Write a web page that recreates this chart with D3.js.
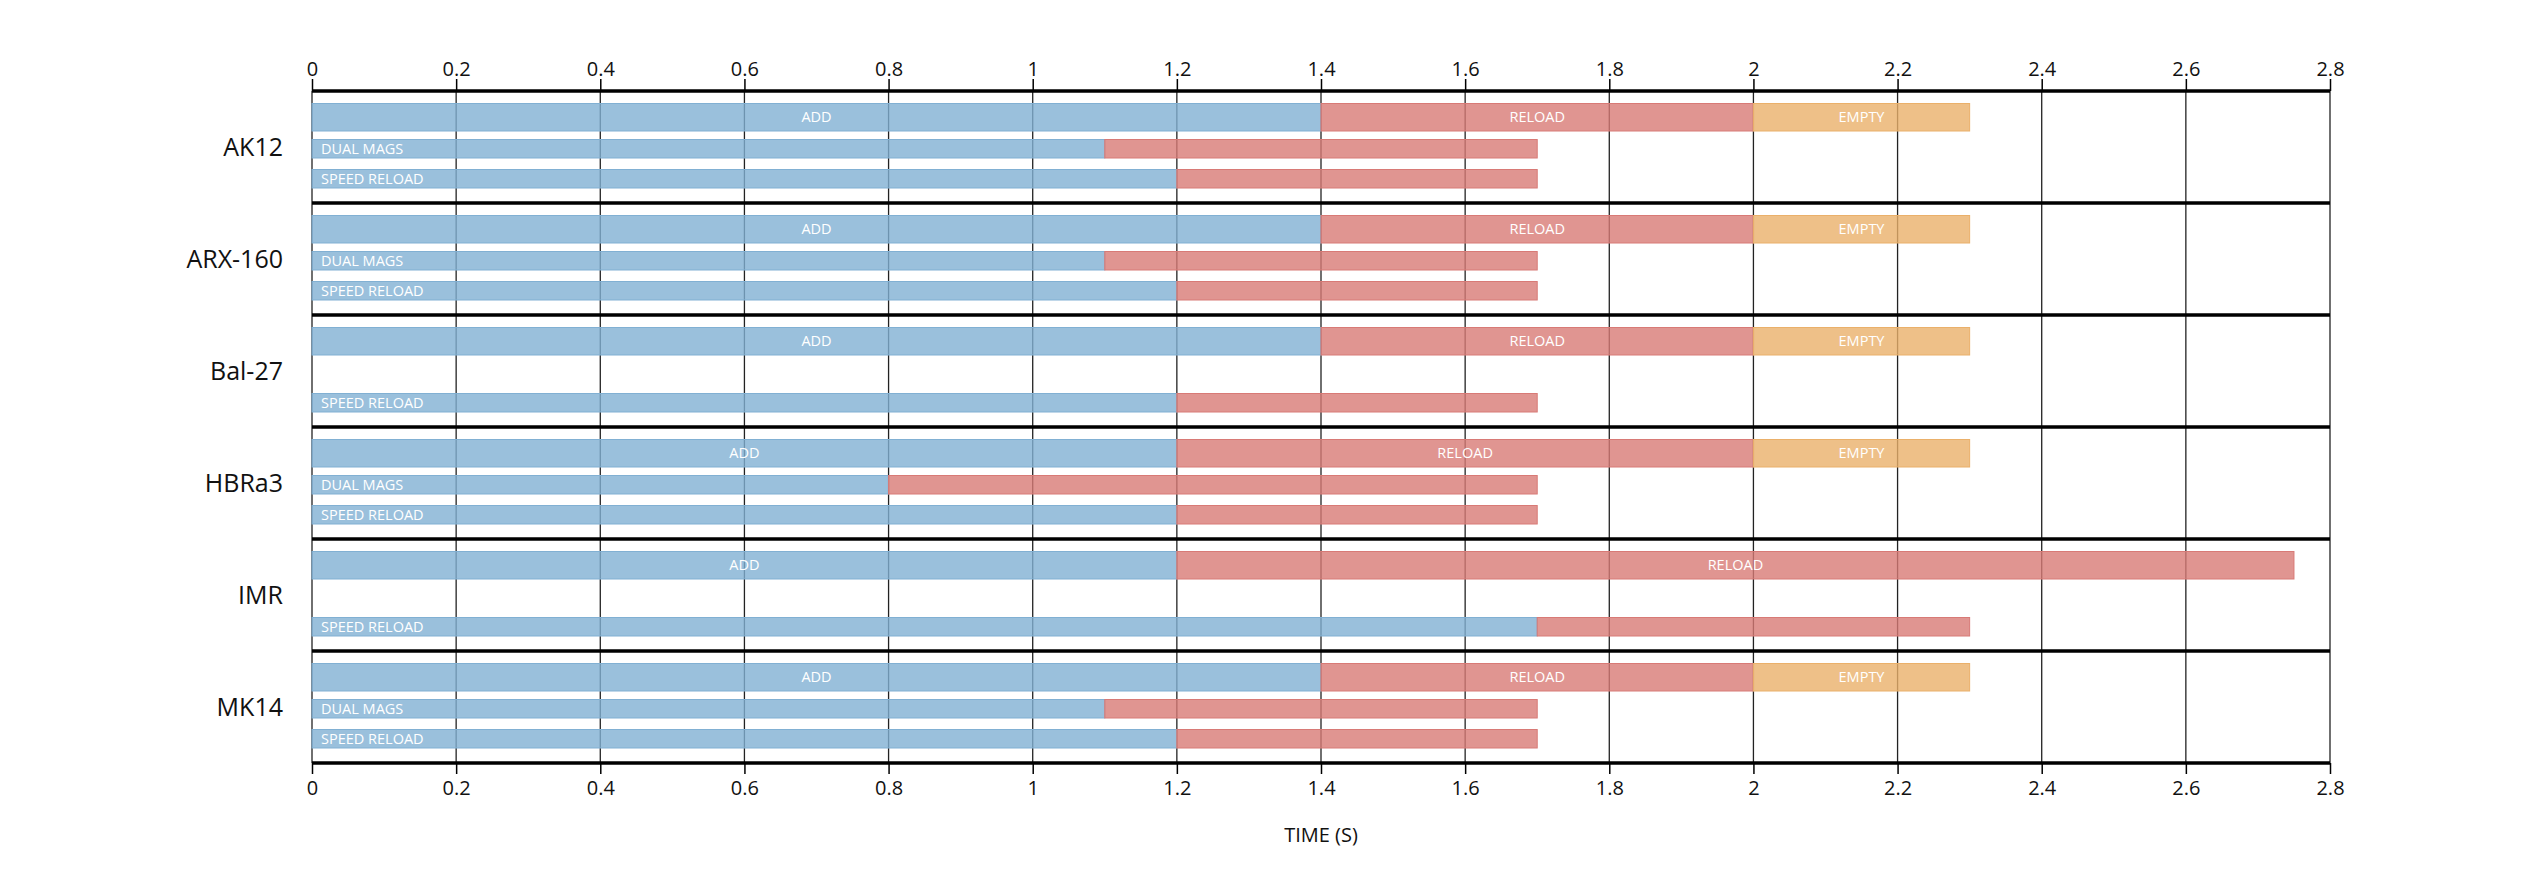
<!DOCTYPE html>
<html>
<head>
<meta charset="utf-8">
<script src="https://cdn.jsdelivr.net/npm/d3@7"></script>
<style>
  html, body { margin: 0; padding: 0; background: #fff; }
  svg { display: block; font-family: "Open Sans", sans-serif; }
</style>
</head>
<body>
<div id="chart"></div>
<script>
// weapons (one block of rows each)
const weapons = ["AK12", "ARX-160", "Bal-27", "HBRa3", "IMR", "MK14"];

// main row: ADD -> RELOAD -> EMPTY (seconds)
const addEnd = [1.4, 1.4, 1.4, 1.2, 1.2, 1.4];
const reloadEnd = [2.0, 2.0, 2.0, 2.0, 2.75, 2.0];
const emptyEnd = [2.3, 2.3, 2.3, 2.3, null, 2.3];

// dual mags row (null = not available)
const dualSwitch = [1.1, 1.1, null, 0.8, null, 1.1];
const dualEnd = [1.7, 1.7, null, 1.7, null, 1.7];

// speed reload row
const speedSwitch = [1.2, 1.2, 1.2, 1.2, 1.7, 1.2];
const speedEnd = [1.7, 1.7, 1.7, 1.7, 2.3, 1.7];

const tickValues = [0, 0.2, 0.4, 0.6, 0.8, 1, 1.2, 1.4, 1.6, 1.8, 2, 2.2, 2.4, 2.6, 2.8];
const tickLabels = ["0", "0.2", "0.4", "0.6", "0.8", "1", "1.2", "1.4", "1.6", "1.8", "2", "2.2", "2.4", "2.6", "2.8"];

const colors = { blue: "rgb(129,176,211)", red: "rgb(216,122,118)", orange: "rgb(234,176,106)" };

const width = 2546, height = 873;
const margin = { top: 91, right: 216, bottom: 110, left: 312 };

const svg = d3.select("#chart").append("svg")
    .attr("width", width)
    .attr("height", height);

const x = d3.scaleLinear()
    .domain([0, 2.8])
    .range([margin.left, width - margin.right]);

const y = d3.scaleBand()
    .domain(weapons)
    .range([margin.top, height - margin.bottom]);

// rows inside each block: main row is taller
const rowTop = [12.5, 48.5, 78.5];
const rowHeight = [27.5, 18.5, 18.5];

// build segments from the arrays
const segments = [];
weapons.forEach((w, i) => {
    segments.push({ w, row: 0, x0: 0, x1: addEnd[i], c: "blue", label: "ADD", center: true });
    segments.push({ w, row: 0, x0: addEnd[i], x1: reloadEnd[i], c: "red", label: "RELOAD", center: true });
    if (emptyEnd[i] != null)
        segments.push({ w, row: 0, x0: reloadEnd[i], x1: emptyEnd[i], c: "orange", label: "EMPTY", center: true });
    if (dualSwitch[i] != null) {
        segments.push({ w, row: 1, x0: 0, x1: dualSwitch[i], c: "blue", label: "DUAL MAGS", center: false });
        segments.push({ w, row: 1, x0: dualSwitch[i], x1: dualEnd[i], c: "red" });
    }
    segments.push({ w, row: 2, x0: 0, x1: speedSwitch[i], c: "blue", label: "SPEED RELOAD", center: false });
    segments.push({ w, row: 2, x0: speedSwitch[i], x1: speedEnd[i], c: "red" });
});

// vertical gridlines
svg.append("g")
    .selectAll("line")
    .data(tickValues)
    .join("line")
    .attr("x1", d => x(d))
    .attr("x2", d => x(d))
    .attr("y1", y.range()[0])
    .attr("y2", y.range()[1])
    .attr("stroke", "#222")
    .attr("stroke-width", 1.3);

// bars
svg.append("g")
    .selectAll("rect")
    .data(segments)
    .join("rect")
    .attr("x", d => x(d.x0))
    .attr("width", d => x(d.x1) - x(d.x0))
    .attr("y", d => y(d.w) + rowTop[d.row])
    .attr("height", d => rowHeight[d.row])
    .attr("fill", d => colors[d.c])
    .attr("fill-opacity", 0.8)
    .attr("stroke", d => colors[d.c])
    .attr("stroke-width", 1);

// bar labels
svg.append("g")
    .selectAll("text")
    .data(segments.filter(d => d.label))
    .join("text")
    .attr("x", d => d.center ? (x(d.x0) + x(d.x1)) / 2 : x(d.x0) + 9)
    .attr("y", d => y(d.w) + rowTop[d.row] + rowHeight[d.row] / 2)
    .attr("dy", "0.36em")
    .attr("text-anchor", d => d.center ? "middle" : "start")
    .attr("fill", "#fff")
    .style("font-size", "14.5px")
    .text(d => d.label);

// thick separators between blocks
const bounds = weapons.map(w => y(w)).concat([y.range()[1]]);
svg.append("g")
    .selectAll("line")
    .data(bounds)
    .join("line")
    .attr("x1", x.range()[0])
    .attr("x2", x.range()[1])
    .attr("y1", d => d)
    .attr("y2", d => d)
    .attr("stroke", "#000")
    .attr("stroke-width", 3.5);

// axes
const fmt = d => tickLabels[tickValues.indexOf(d)];

svg.append("g")
    .attr("transform", `translate(0,${y.range()[0]})`)
    .call(d3.axisTop(x).tickValues(tickValues).tickFormat(fmt).tickSize(12).tickPadding(3))
    .call(g => g.select(".domain").remove())
    .call(g => g.selectAll(".tick line").attr("stroke", "#000").attr("stroke-width", 1.5))
    .call(g => g.selectAll(".tick text").attr("fill", "#111").style("font-size", "20px").style("font-family", "'Open Sans', sans-serif"));

svg.append("g")
    .attr("transform", `translate(0,${y.range()[1]})`)
    .call(d3.axisBottom(x).tickValues(tickValues).tickFormat(fmt).tickSize(11).tickPadding(7))
    .call(g => g.select(".domain").remove())
    .call(g => g.selectAll(".tick line").attr("stroke", "#000").attr("stroke-width", 1.5))
    .call(g => g.selectAll(".tick text").attr("fill", "#111").style("font-size", "20px").style("font-family", "'Open Sans', sans-serif"));

// weapon names
svg.append("g")
    .selectAll("text")
    .data(weapons)
    .join("text")
    .attr("x", margin.left - 29)
    .attr("y", d => y(d) + y.bandwidth() / 2)
    .attr("dy", "0.36em")
    .attr("text-anchor", "end")
    .attr("fill", "#111")
    .style("font-size", "25px")
    .text(d => d);

// axis title
svg.append("text")
    .attr("x", (x.range()[0] + x.range()[1]) / 2)
    .attr("y", 842)
    .attr("text-anchor", "middle")
    .attr("fill", "#111")
    .style("font-size", "20px")
    .text("TIME (S)");
</script>
</body>
</html>
